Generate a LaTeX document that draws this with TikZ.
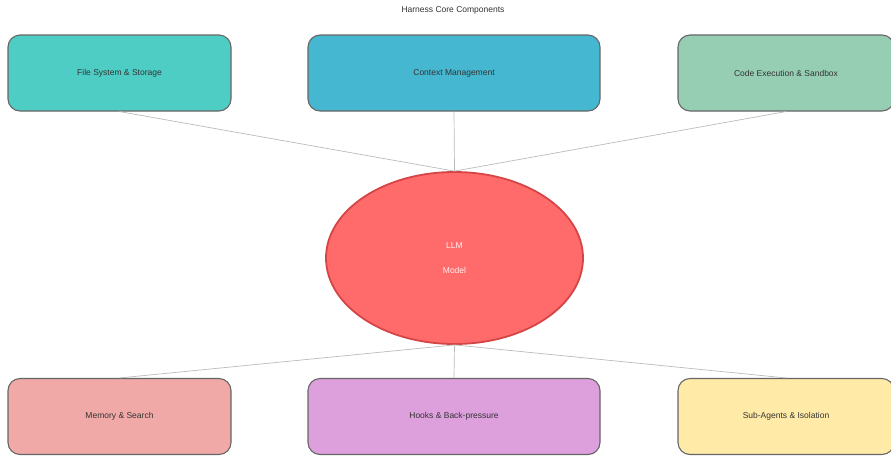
\documentclass[tikz,border=0pt]{standalone}
\usepackage{fontspec}
\setmainfont{Liberation Sans}
\usepackage{xcolor}
\usetikzlibrary{shapes.geometric}

\definecolor{filecol}{HTML}{4ECDC4}
\definecolor{ctxcol}{HTML}{45B7D1}
\definecolor{codecol}{HTML}{96CEB4}
\definecolor{memcol}{HTML}{F0A9A7}
\definecolor{hookcol}{HTML}{DDA0DD}
\definecolor{subcol}{HTML}{FFEAA7}
\definecolor{llmcol}{HTML}{FF6B6B}
\definecolor{llmedge}{HTML}{D64545}
\definecolor{edgecol}{HTML}{666666}
\definecolor{linkcol}{HTML}{BBBBBB}
\definecolor{txtcol}{HTML}{333333}

\begin{document}
\begin{tikzpicture}[x=1pt, y=-1pt,
  every node/.style={font=\fontsize{8.5}{10}\selectfont, text=txtcol},
  compbox/.style={draw=edgecol, line width=1.1pt, rounded corners=12pt, minimum height=76pt},
  link/.style={draw=linkcol, line width=0.7pt}]

\useasboundingbox (0,0) rectangle (891,456);

% Title
\node (title) at (453,10) {Harness Core Components};

% File System
\node[compbox, fill=filecol, minimum width=223pt] (files) at (119.5,73) {File System \& Storage};

% Context Management
\node[compbox, fill=ctxcol, minimum width=292pt] (context) at (454,73) {Context Management};

% Code Execution
\node[compbox, fill=codecol, minimum width=216pt] (code) at (786,73) {Code Execution \& Sandbox};

% LLM (center)
\node[ellipse, draw=llmedge, line width=1.8pt, fill=llmcol, minimum width=257pt, minimum height=172pt, text=white!90!llmcol, align=center] (llm) at (454.5,258) {LLM\\[15pt]Model};

% Memory
\node[compbox, fill=memcol, minimum width=223pt] (memory) at (119.5,416.5) {Memory \& Search};

% Hooks
\node[compbox, fill=hookcol, minimum width=292pt] (hooks) at (454,416.5) {Hooks \& Back-pressure};

% Sub-Agents
\node[compbox, fill=subcol, minimum width=216pt] (subagents) at (786,416.5) {Sub-Agents \& Isolation};

% Links - top row
\draw[link] (files.south) -- (llm.north);
\draw[link] (context.south) -- (llm.north);
\draw[link] (code.south) -- (llm.north);

% Links - bottom row
\draw[link] (llm.south) -- (memory.north);
\draw[link] (llm.south) -- (hooks.north);
\draw[link] (llm.south) -- (subagents.north);

\end{tikzpicture}
\end{document}
